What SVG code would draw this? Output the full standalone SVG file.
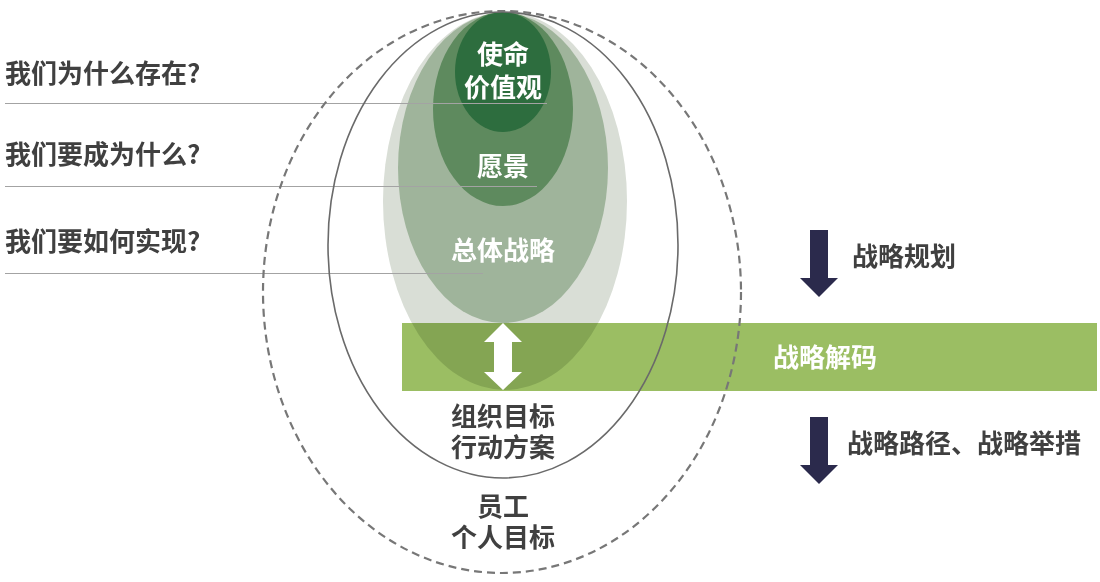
<svg xmlns="http://www.w3.org/2000/svg" width="1100" height="582" viewBox="0 0 1100 582">
<style>
.t{font-family:"Noto Sans CJK SC","Noto Sans",sans-serif;font-weight:bold;font-size:26px}
.w{fill:#ffffff}
.d{fill:#404040}
.m{text-anchor:middle}
.q{stroke:#a3a3a3;stroke-width:1.2;fill:none}
.nav{fill:#2b2a4c}
</style>
<rect width="1100" height="582" fill="#ffffff"/>
<g id="layer-strategy-outer"><ellipse cx="505" cy="201" rx="122" ry="189" fill="#d9ded6"/></g>
<g id="bar-decode">
<rect x="402" y="323" width="695" height="68" fill="#9bbe63" style="mix-blend-mode:multiply"/>
<text class="t w" x="773" y="367">战略解码</text>
</g>
<g id="layer-strategy">
<ellipse cx="503" cy="168" rx="105" ry="155" fill="#9fb49b"/>
<text class="t w m" x="503" y="260">总体战略</text>
</g>
<g id="layer-vision">
<ellipse cx="503" cy="109" rx="70" ry="97" fill="#5e8a5e"/>
<text class="t w m" x="503" y="176">愿景</text>
</g>
<g id="layer-mission">
<ellipse cx="503" cy="72" rx="48" ry="60" fill="#2d6d3e"/>
<text class="t w m" x="503" font-size="25"><tspan x="503" y="64">使命</tspan><tspan x="503" y="97">价值观</tspan></text>
</g>
<g id="connectors">
<line class="q" x1="5" y1="103.5" x2="547" y2="103.5"/>
<line class="q" x1="5" y1="186.5" x2="537" y2="186.5"/>
<line class="q" x1="5" y1="273.5" x2="483" y2="273.5"/>
<path d="M503 323 L522 342 L512 342 L512 372 L522 372 L503 390 L484 372 L494 372 L494 342 L484 342 Z" fill="#ffffff"/>
<path class="nav" d="M810 230 H828 V278 H838 L819 297 L800 278 H810 Z"/>
<path class="nav" d="M810 417 H828 V465 H838 L819 484 L800 465 H810 Z"/>
</g>
<g id="org-goals">
<ellipse cx="503" cy="245" rx="175" ry="233" fill="none" stroke="#6a6a6a" stroke-width="1.6"/>
<text class="t d m" x="503" font-size="25"><tspan x="503" y="426">组织目标</tspan><tspan x="503" y="457">行动方案</tspan></text>
</g>
<g id="employee-goals">
<ellipse cx="502" cy="292" rx="239" ry="281" fill="none" stroke="#777777" stroke-width="2.2" stroke-dasharray="8 5"/>
<text class="t d m" x="503" font-size="25"><tspan x="503" y="516">员工</tspan><tspan x="503" y="547">个人目标</tspan></text>
</g>
<g id="questions">
<text class="t d" x="5" y="83" font-size="25">我们为什么存在?</text>
<text class="t d" x="5" y="164" font-size="25">我们要成为什么?</text>
<text class="t d" x="5" y="251" font-size="25">我们要如何实现?</text>
</g>
<g id="labels-right">
<text class="t d" x="852" y="266">战略规划</text>
<text class="t d" x="847" y="453">战略路径、战略举措</text>
</g>
</svg>
